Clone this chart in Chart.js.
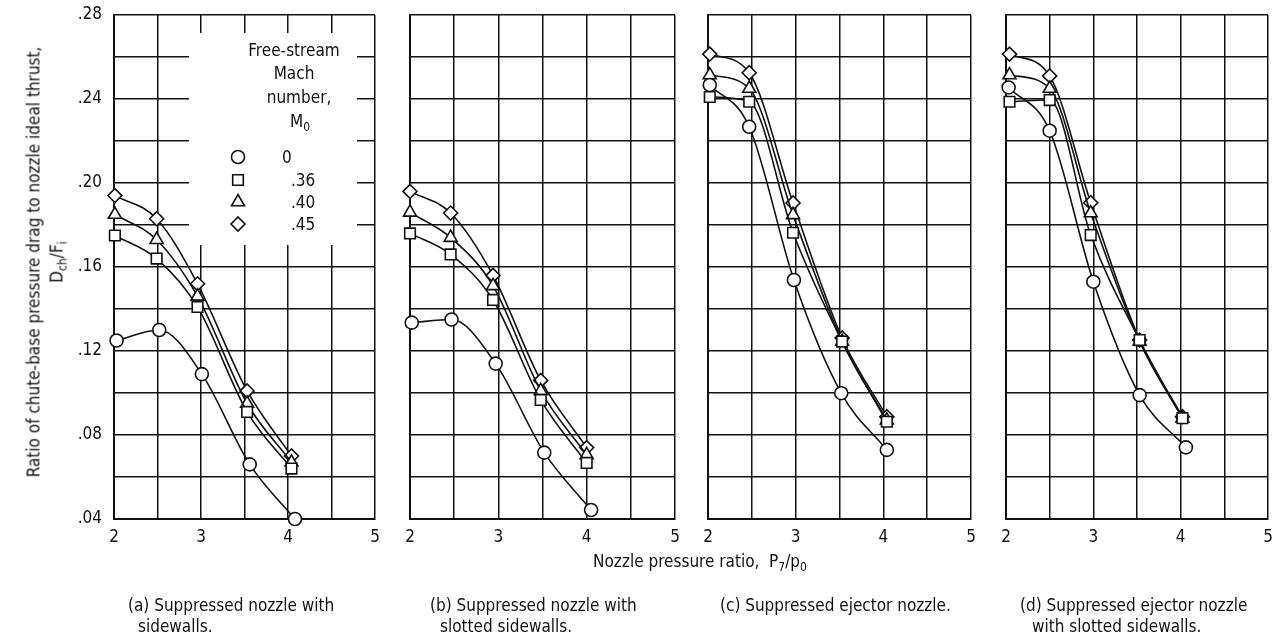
<!DOCTYPE html>
<html lang="en">
<head>
<meta charset="UTF-8" />
<script src="https://cdn.jsdelivr.net/npm/chart.js@4.4.0/dist/chart.umd.min.js"></script>
<style>
  body { margin: 0; background: #fff; }
  #wrap {
    position: relative; width: 1279px; height: 637px; overflow: hidden;
    font-family: "Liberation Sans Narrow", "DejaVu Sans Condensed", "Arial Narrow", sans-serif;
    color: #111;
  }
  #wrap canvas { position: absolute; left: 0; top: 0; }
  .t { position: absolute; white-space: nowrap; font-size: 17px; line-height: 1; }
  .c { transform: translate(-50%, -50%); }
  .l { transform: translate(0, -50%); }
  sub { font-size: 12px; vertical-align: -4px; line-height: 0; }
</style>
<title>Chute-base pressure drag</title>
</head>
<body>
<div id="wrap">
  <canvas id="pa" width="1279" height="637"></canvas>
  <canvas id="pb" width="1279" height="637"></canvas>
  <canvas id="pc" width="1279" height="637"></canvas>
  <canvas id="pd" width="1279" height="637"></canvas>

  <!-- legend of panel (a) -->
  <div class="t c" style="left:294px; top:50px;">Free-stream</div>
  <div class="t c" style="left:294px; top:73px;">Mach</div>
  <div class="t c" style="left:299px; top:97px;">number,</div>
  <div class="t c" style="left:300px; top:121px;">M<sub>0</sub></div>
  <div class="t l" id="lg0" style="left:282px; top:157px;"></div>
  <div class="t l" id="lg1" style="left:291px; top:180px;"></div>
  <div class="t l" id="lg2" style="left:291px; top:202px;"></div>
  <div class="t l" id="lg3" style="left:291px; top:224px;"></div>

  <!-- axis titles -->
  <div class="t c" style="left:34px; top:262px; transform: translate(-50%,-50%) rotate(-90deg);">Ratio of chute-base pressure drag to nozzle ideal thrust,</div>
  <div class="t c" style="left:57px; top:262px; transform: translate(-50%,-50%) rotate(-90deg);">D<sub>ch</sub>/F<sub>i</sub></div>
  <div class="t c" style="left:700px; top:561px;">Nozzle pressure ratio,&nbsp; P<sub>7</sub>/p<sub>0</sub></div>

  <!-- captions -->
  <div class="t l" style="left:128px; top:605px;">(a) Suppressed nozzle with</div>
  <div class="t l" style="left:138px; top:626px;">sidewalls.</div>
  <div class="t l" style="left:430px; top:605px;">(b) Suppressed nozzle with</div>
  <div class="t l" style="left:440px; top:626px;">slotted sidewalls.</div>
  <div class="t l" style="left:720px; top:605px;">(c) Suppressed ejector nozzle.</div>
  <div class="t l" style="left:1020px; top:605px;">(d) Suppressed ejector nozzle</div>
  <div class="t l" style="left:1032px; top:626px;">with slotted sidewalls.</div>
</div>
<script>
  // free-stream Mach numbers (legend) and tick labels
  const machNumbers = ["0", ".36", ".40", ".45"];
  const xTickLabels = ["2", "3", "4", "5"];
  const yTickLabels = [".04", ".08", ".12", ".16", ".20", ".24", ".28"];

  // (a) suppressed nozzle with sidewalls
  const aNpr0 = [2.03, 2.52, 3.01, 3.56, 4.08];
  const aNpr = [2.01, 2.49, 2.96, 3.53, 4.04];
  const aM0 = [0.125, 0.130, 0.109, 0.066, 0.040];
  const aM36 = [0.175, 0.164, 0.141, 0.091, 0.064];
  const aM40 = [0.185, 0.173, 0.146, 0.095, 0.067];
  const aM45 = [0.194, 0.183, 0.152, 0.101, 0.070];

  // (b) suppressed nozzle with slotted sidewalls
  const bNpr0 = [2.02, 2.47, 2.97, 3.52, 4.05];
  const bNpr = [2.0, 2.46, 2.94, 3.48, 4.0];
  const bM0 = [0.1335, 0.135, 0.114, 0.0716, 0.0443];
  const bM36 = [0.176, 0.166, 0.1443, 0.0967, 0.0667];
  const bM40 = [0.186, 0.174, 0.151, 0.101, 0.0705];
  const bM45 = [0.196, 0.1857, 0.156, 0.106, 0.074];

  // (c) suppressed ejector nozzle
  const cNpr0 = [2.02, 2.47, 2.98, 3.52, 4.04];
  const cNpr = [2.02, 2.47, 2.97, 3.53, 4.04];
  const cM0 = [0.2467, 0.2268, 0.1538, 0.0999, 0.0729];
  const cM36 = [0.241, 0.2387, 0.1763, 0.1245, 0.0863];
  const cM40 = [0.2514, 0.245, 0.1848, 0.1245, 0.087];
  const cM45 = [0.2614, 0.2525, 0.1905, 0.1262, 0.0887];

  // (d) suppressed ejector nozzle with slotted sidewalls
  const dNpr0 = [2.03, 2.5, 3.0, 3.53, 4.06];
  const dNpr = [2.04, 2.5, 2.97, 3.53, 4.02];
  const dM0 = [0.2455, 0.2249, 0.153, 0.099, 0.0741];
  const dM36 = [0.2387, 0.2395, 0.1752, 0.1252, 0.088];
  const dM40 = [0.2514, 0.245, 0.1857, 0.1245, 0.088];
  const dM45 = [0.2614, 0.251, 0.1906, 0.1252, 0.0887];

  const panels = [
    { id: "pa", left: 114, right: 375, npr0: aNpr0, npr: aNpr, series: [aM0, aM36, aM40, aM45] },
    { id: "pb", left: 410, right: 675, npr0: bNpr0, npr: bNpr, series: [bM0, bM36, bM40, bM45] },
    { id: "pc", left: 708, right: 971, npr0: cNpr0, npr: cNpr, series: [cM0, cM36, cM40, cM45] },
    { id: "pd", left: 1006, right: 1268, npr0: dNpr0, npr: dNpr, series: [dM0, dM36, dM40, dM45] },
  ];

  const FONT = "'Liberation Sans Narrow', 'DejaVu Sans Condensed', 'Arial Narrow', sans-serif";
  const INK = "#111";
  const markerStyles = ["circle", "rect", "triangle", "rectRot"];
  const markerRadius = [6.5, 7.5, 7.5, 7];
  const TOP = 15, BOTTOM = 519, XAXIS_H = 30, YAXIS_W = 40;

  machNumbers.forEach((m, i) => { document.getElementById("lg" + i).textContent = m; });

  // white box behind the legend and its symbols, panel (a) only
  const legendPlugin = {
    id: "legendBox",
    beforeDatasetsDraw(chart) {
      const { ctx } = chart;
      ctx.save();
      ctx.fillStyle = "#fff";
      ctx.fillRect(189, 33, 357 - 189, 245 - 33);
      ctx.restore();
    },
    afterDraw(chart) {
      const { ctx } = chart;
      const ys = [157, 180, 202, 224];
      ctx.save();
      ys.forEach((y, k) => {
        ctx.strokeStyle = INK;
        ctx.fillStyle = "#fff";
        ctx.lineWidth = 1.6;
        Chart.helpers.drawPoint(ctx, { pointStyle: markerStyles[k], radius: markerRadius[k], rotation: 0, borderWidth: 1.6 }, 238, y);
      });
      ctx.restore();
    },
  };

  panels.forEach((p, i) => {
    const yw = i === 0 ? YAXIS_W : 0;
    const datasets = p.series.map((ys, k) => ({
      label: "M0 = " + machNumbers[k],
      data: ys.map((y, j) => ({ x: (k === 0 ? p.npr0 : p.npr)[j], y: y })),
      borderColor: INK,
      borderWidth: 1.6,
      pointStyle: markerStyles[k],
      pointRadius: markerRadius[k],
      pointBorderColor: INK,
      pointBackgroundColor: "#fff",
      pointBorderWidth: 1.6,
      cubicInterpolationMode: "monotone",
      fill: false,
      clip: 12,
    }));

    new Chart(document.getElementById(p.id), {
      type: "line",
      data: { datasets },
      options: {
        responsive: false,
        animation: false,
        events: [],
        layout: { padding: { left: p.left - yw, right: 1279 - p.right, top: TOP, bottom: 637 - BOTTOM - XAXIS_H } },
        plugins: { legend: { display: false }, tooltip: { enabled: false } },
        scales: {
          x: {
            type: "linear", min: 2, max: 5,
            afterFit: (s) => { s.height = XAXIS_H; s.paddingLeft = 0; s.paddingRight = 0; },
            ticks: {
              stepSize: 0.5, autoSkip: false, maxRotation: 0, padding: 8, color: INK,
              font: { family: FONT, size: 17 },
              callback: (v) => Math.abs(v - Math.round(v)) < 1e-6 ? xTickLabels[Math.round(v) - 2] : "",
            },
            grid: { color: INK, lineWidth: 1.5, drawTicks: false },
            border: { color: INK, width: 2 },
          },
          y: {
            min: 0.04, max: 0.28,
            afterFit: (s) => { s.width = yw; s.paddingTop = 0; s.paddingBottom = 0; },
            ticks: {
              display: i === 0, stepSize: 0.02, autoSkip: false, padding: 12, color: INK,
              font: { family: FONT, size: 17 },
              callback: (v) => { const k = Math.round(v * 100); return k % 4 === 0 ? yTickLabels[k / 4 - 1] : ""; },
            },
            grid: { color: INK, lineWidth: 1.5, drawTicks: false },
            border: { color: INK, width: 2 },
          },
        },
      },
      plugins: i === 0 ? [legendPlugin] : [],
    });
  });
</script>
</body>
</html>
